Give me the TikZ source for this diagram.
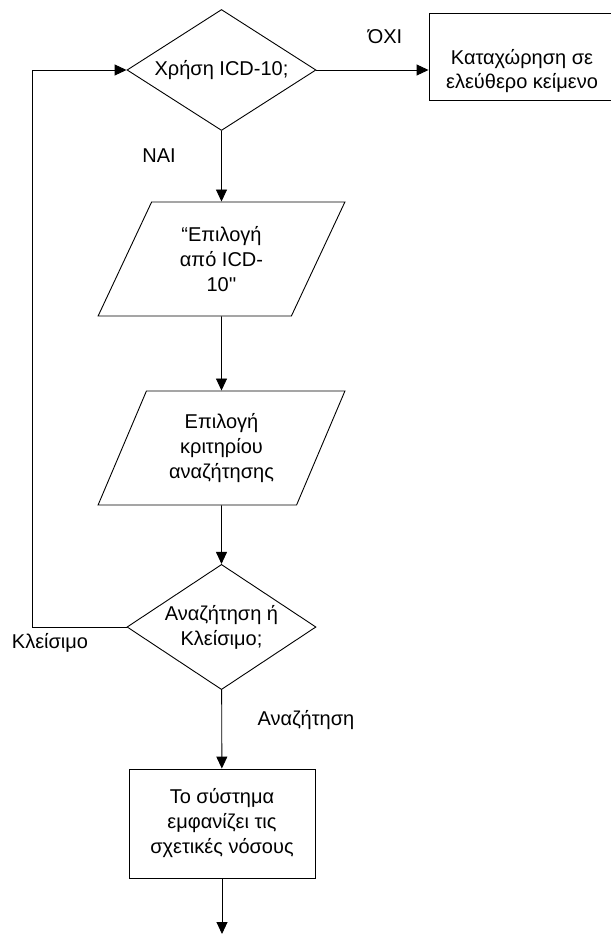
\documentclass[tikz,border=0pt]{standalone}
\usepackage{fontspec}
\setmainfont{Liberation Sans}[Ligatures=TeXOff]
\usepackage{xcolor}
\usepackage{tikz}
\usetikzlibrary{arrows.meta,positioning,shapes.geometric}
\definecolor{fcInk}{HTML}{000000}
\tikzset{
  fc diagram/.style={x=1pt, y=-1pt, font=\fontsize{20}{25}\selectfont,
    text=fcInk, line join=miter},
  fc box/.style={draw=fcInk, fill=white, line width=0.9pt,
    align=center, inner sep=0pt},
  fc decision/.style={fc box, shape=diamond, inner sep=-8pt,
    minimum width=189pt, minimum height=113pt},
  fc io/.style={fc box, shape=trapezium, trapezium left angle=64,
    trapezium right angle=116, trapezium stretches=true,
    minimum width=247pt, minimum height=114pt},
  fc arrow/.style={-{Triangle[length=12pt,width=11pt]}, draw=fcInk,
    line width=0.9pt},
  fc label/.style={font=\fontsize{20}{24}\selectfont, text=fcInk}
}

\begin{document}
\begin{tikzpicture}[fc diagram]
\useasboundingbox (0,0) rectangle (610,936);
% decision on the coding scheme
\node[fc decision] (useicd) at (221.5,70) {Χρήση ICD-10;};
\node[fc box, minimum width=187pt, minimum height=87pt] (freetext) at (522.5,56.5) {};
\node[fc label, align=center] (freetextlbl) at (522,71) {Καταχώρηση σε\\ελεύθερο κείμενο};
% inputs
\node[fc io] (pickicd) at (221.5,259) {“Επιλογή\\από ICD-\\10''};
\node[fc io] (pickcrit) at (221.5,448) {Επιλογή\\κριτηρίου\\αναζήτησης};
\node[fc decision] (askmode) at (221.5,627) {Αναζήτηση ή\\Κλείσιμο;};
\node[fc box, minimum width=186pt, minimum height=109pt] (showlist) at (222,823.5)
  {Το σύστημα\\εμφανίζει τις\\σχετικές νόσους};
\coordinate (exit) at (222,934);
\coordinate (loopside) at (32,0);
% connectors
\draw[fc arrow] (useicd.east) -- (useicd.east -| freetext.west);
\draw[fc arrow] (useicd) -- (pickicd);
\draw[fc arrow] (pickicd) -- (pickcrit);
\draw[fc arrow] (pickcrit) -- (askmode);
\draw[fc arrow] (askmode) -- (showlist);
\draw[fc arrow] (showlist) -- (exit);
\draw[fc arrow] (askmode.west) -- (askmode.west -| loopside) |- (useicd.west);
% branch labels
\node[fc label] (nolbl) at (385,37) {ΌΧΙ};
\node[fc label] (yeslbl) at (159,156) {ΝΑΙ};
\node[fc label] (closelbl) at (50,643) {Κλείσιμο};
\node[fc label] (searchlbl) at (306,720) {Αναζήτηση};
\end{tikzpicture}
\end{document}
